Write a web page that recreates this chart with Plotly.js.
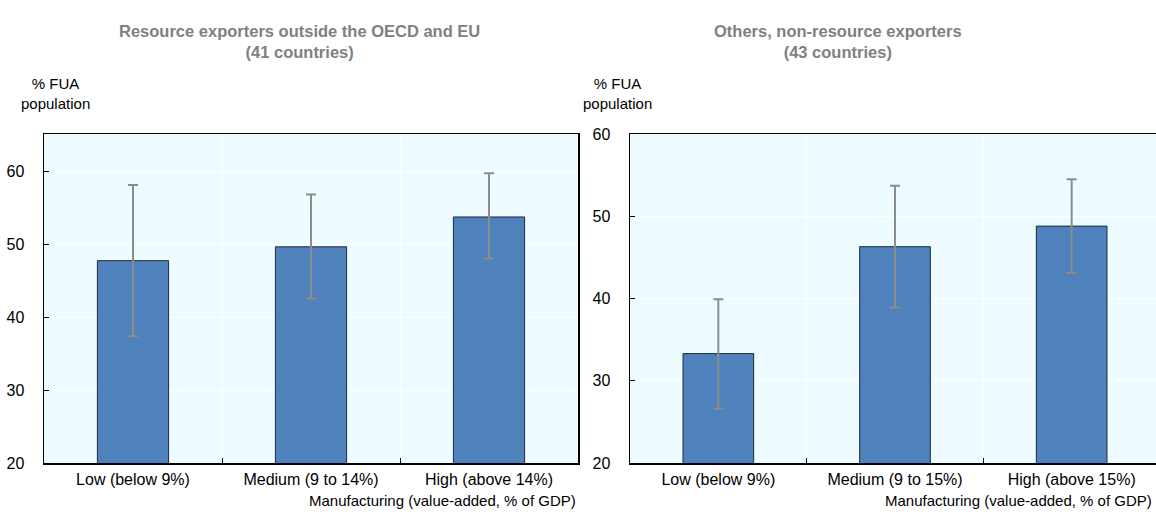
<!DOCTYPE html>
<html>
<head>
<meta charset="utf-8">
<script src="https://cdn.plot.ly/plotly-3.0.1.min.js"></script>
<style>
  html, body { margin: 0; padding: 0; overflow: hidden; background: #fff; }
  #chart { width: 1162px; height: 517px; }
</style>
</head>
<body>
<div id="chart"></div>
<script>
// Share of FUA population by manufacturing intensity, two country groups
const catsResource = ['Low (below 9%)', 'Medium (9 to 14%)', 'High (above 14%)'];
const valsResource = [47.8, 49.7, 53.8];
const upperResource = [58.2, 56.9, 59.8];
const lowerResource = [37.4, 42.6, 48.1];

const catsOther = ['Low (below 9%)', 'Medium (9 to 15%)', 'High (above 15%)'];
const valsOther = [33.3, 46.3, 48.8];
const upperOther = [39.9, 53.7, 54.5];
const lowerOther = [26.6, 38.9, 43.1];

const yTicksResource = [20, 30, 40, 50, 60];
const yTicksOther = [20, 30, 40, 50, 60];

const W = 1162, H = 517;
const px = v => v / W;
const py = v => (H - v) / H;

const FONT = 'Liberation Sans, Arial, sans-serif';
const BAR = '#4f81bd';
const ERR = '#8c8c8c';
const BG = '#effcff';

function barTrace(cats, vals, up, lo, xa, ya) {
  return {
    type: 'bar', x: cats, y: vals, xaxis: xa, yaxis: ya,
    width: 0.4,
    marker: { color: BAR, line: { color: '#1c2a3a', width: 1 } },
    error_y: {
      type: 'data', symmetric: false,
      array: vals.map((v, i) => up[i] - v),
      arrayminus: vals.map((v, i) => v - lo[i]),
      color: ERR, thickness: 2, width: 5
    },
    hoverinfo: 'x+y', showlegend: false
  };
}

const xCommon = {
  type: 'category', showline: true, linecolor: '#000', linewidth: 1.5, mirror: true,
  showgrid: true, gridcolor: '#ffffff', gridwidth: 1, tickson: 'boundaries',
  ticks: 'inside', ticklen: 5, tickcolor: '#000', ticklabelstandoff: 1,
  tickfont: { family: FONT, size: 16, color: '#000' }, zeroline: false, fixedrange: true
};
const yCommon = {
  showline: true, linecolor: '#000', linewidth: 1.5, mirror: true,
  showgrid: true, gridcolor: '#ffffff', gridwidth: 1,
  ticks: 'inside', ticklen: 5, tickcolor: '#000', ticklabelstandoff: 15,
  tickfont: { family: FONT, size: 16, color: '#000' }, zeroline: false, fixedrange: true
};

const layout = {
  width: W, height: H,
  margin: { l: 0, r: 0, t: 0, b: 0 },
  paper_bgcolor: '#ffffff', plot_bgcolor: BG,
  font: { family: FONT, size: 15, color: '#000' },
  xaxis: Object.assign({}, xCommon, { domain: [px(44), px(578)], anchor: 'y' }),
  yaxis: Object.assign({}, yCommon, { domain: [py(463), py(134)], anchor: 'x',
    range: [20, 65.2], tickvals: yTicksResource }),
  xaxis2: Object.assign({}, xCommon, { domain: [px(630), px(1160)], anchor: 'y2' }),
  yaxis2: Object.assign({}, yCommon, { domain: [py(463), py(134)], anchor: 'x2',
    range: [20, 60], tickvals: yTicksOther }),
  annotations: [
    { text: '<b>Resource exporters outside the OECD and EU<br>(41 countries)</b>',
      x: px(299), y: py(41), xref: 'paper', yref: 'paper', showarrow: false,
      xanchor: 'center', yanchor: 'middle', font: { family: FONT, size: 16.5, color: '#808080' } },
    { text: '<b>Others, non-resource exporters<br>(43 countries)</b>',
      x: px(838), y: py(41), xref: 'paper', yref: 'paper', showarrow: false,
      xanchor: 'center', yanchor: 'middle', font: { family: FONT, size: 16.5, color: '#808080' } },
    { text: '% FUA<br>population', x: px(55), y: py(94), xref: 'paper', yref: 'paper',
      showarrow: false, xanchor: 'center', yanchor: 'middle', font: { family: FONT, size: 15 } },
    { text: '% FUA<br>population', x: px(617), y: py(94), xref: 'paper', yref: 'paper',
      showarrow: false, xanchor: 'center', yanchor: 'middle', font: { family: FONT, size: 15 } },
    { text: 'Manufacturing (value-added, % of GDP)', x: px(578), y: py(500), xref: 'paper', yref: 'paper',
      showarrow: false, xanchor: 'right', yanchor: 'middle', font: { family: FONT, size: 15 } },
    { text: 'Manufacturing (value-added, % of GDP)', x: px(1154), y: py(500), xref: 'paper', yref: 'paper',
      showarrow: false, xanchor: 'right', yanchor: 'middle', font: { family: FONT, size: 15 } }
  ]
};

Plotly.newPlot('chart', [
  barTrace(catsResource, valsResource, upperResource, lowerResource, 'x', 'y'),
  barTrace(catsOther, valsOther, upperOther, lowerOther, 'x2', 'y2')
], layout, { displayModeBar: false, staticPlot: true });
</script>
</body>
</html>
